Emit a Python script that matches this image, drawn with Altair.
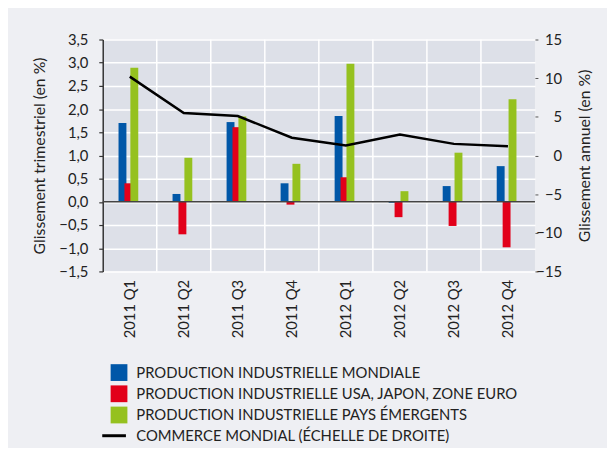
import altair as alt
import pandas as pd

quarters = ["2011 Q1", "2011 Q2", "2011 Q3", "2011 Q4", "2012 Q1", "2012 Q2", "2012 Q3", "2012 Q4"]
series_names = [
    "PRODUCTION INDUSTRIELLE MONDIALE",
    "PRODUCTION INDUSTRIELLE USA, JAPON, ZONE EURO",
    "PRODUCTION INDUSTRIELLE PAYS ÉMERGENTS",
]
line_name = "COMMERCE MONDIAL (ÉCHELLE DE DROITE)"
mondiale = [1.70, 0.17, 1.72, 0.40, 1.85, -0.02, 0.34, 0.77]
usa_japon_ze = [0.40, -0.70, 1.61, -0.06, 0.53, -0.33, -0.52, -0.98]
emergents = [2.89, 0.95, 1.84, 0.82, 2.98, 0.23, 1.06, 2.21]
commerce = [10.2, 5.5, 5.1, 2.3, 1.3, 2.7, 1.5, 1.2]
colors = ["#0057a8", "#e2001a", "#95c11f"]
left_ticks = [-1.5, -1.0, -0.5, 0.0, 0.5, 1.0, 1.5, 2.0, 2.5, 3.0, 3.5]
right_ticks = [-15, -10, -5, 0, 5, 10, 15]

rows = []
for s, vals in zip(series_names, [mondiale, usa_japon_ze, emergents]):
    for q, v in zip(quarters, vals):
        rows.append({"quarter": q, "series": s, "value": v})
bars_df = pd.DataFrame(rows)
line_df = pd.DataFrame({"quarter": quarters, "value": commerce, "series": line_name})
q_df = pd.DataFrame({"quarter": quarters[1:]})
zero_df = pd.DataFrame({"y": [0.0]})

FONT = "Lato"
W, H = 438, 235

xscale = alt.Scale(domain=quarters, paddingInner=0, paddingOuter=0)
yleft = alt.Scale(domain=[-1.5, 3.5], nice=False, zero=False)
yright = alt.Scale(domain=[-15, 15], nice=False, zero=False)

x_axis = alt.Axis(title=None, labelAngle=-90, labelFontSize=15, labelColor="#222",
                  labelFont=FONT, ticks=False, domain=False, grid=False, labelPadding=8,
                  labelAlign="right", labelBaseline="middle")

grid_v = alt.Chart(q_df).mark_rule(color="white", strokeWidth=1.5).encode(
    x=alt.X("quarter:N", scale=xscale, bandPosition=0, axis=x_axis),
)

left_axis = alt.Axis(
    title="Glissement trimestriel (en %)", values=left_ticks,
    labelExpr="replace(format(datum.value, '.1f'), '.', ',')",
    grid=True, gridColor="white", gridWidth=1.5,
    domainColor="#333", domainWidth=1.5, tickColor="#333", tickSize=4, tickWidth=1.2,
    labelPadding=11, labelFontSize=15, labelFont=FONT, labelColor="#222",
    titleFont=FONT, titleFontSize=16, titleFontWeight="normal", titleColor="#222",
    titlePadding=11,
)

bars = alt.Chart(bars_df).mark_bar(size=8).encode(
    x=alt.X("quarter:N", scale=xscale, axis=x_axis),
    xOffset=alt.XOffset("series:N", sort=series_names,
                        scale=alt.Scale(domain=series_names, range=[17, 35],
                                        paddingInner=0, paddingOuter=0)),
    y=alt.Y("value:Q", scale=yleft, axis=left_axis, stack=None),
    color=alt.Color("series:N", sort=series_names,
                    scale=alt.Scale(domain=series_names, range=colors),
                    legend=alt.Legend(title=None, orient="none", legendX=8, legendY=329,
                                      symbolType="square", symbolSize=289, symbolStrokeWidth=0,
                                      symbolOpacity=1, labelFont=FONT, labelFontSize=15,
                                      labelColor="#222", labelOffset=9, rowPadding=4.5,
                                      padding=0, labelLimit=500)),
    order=alt.Order("sortkey:Q"),
).transform_calculate(
    sortkey=f"indexof({series_names!r}, datum.series)"
)

zero = alt.Chart(zero_df).mark_rule(color="#444", strokeWidth=1.5).encode(
    y=alt.Y("y:Q", scale=yleft, axis=left_axis),
)

right_axis = alt.Axis(
    title="Glissement annuel (en %)", orient="right", values=right_ticks,
    grid=False, domain=False, tickColor="#555", tickSize=3, tickWidth=1,
    labelAlign="right", labelPadding=24, labelFontSize=15, labelFont=FONT, labelColor="#222",
    titleFont=FONT, titleFontSize=16, titleFontWeight="normal", titleColor="#222",
    titleAngle=270, titleX=50, titleY=H / 2, titleAlign="center", titleBaseline="middle",
)

line = alt.Chart(line_df).mark_line(color="black", strokeWidth=2.5).encode(
    x=alt.X("quarter:N", scale=xscale, axis=x_axis),
    y=alt.Y("value:Q", scale=yright, axis=right_axis),
    stroke=alt.Stroke("series:N", scale=alt.Scale(domain=[line_name], range=["black"]),
                      legend=alt.Legend(title=None, orient="none", legendX=-2, legendY=388,
                                        symbolType="stroke", symbolSize=576, symbolStrokeWidth=3,
                                        labelFont=FONT, labelFontSize=15, labelColor="#222",
                                        labelOffset=9, padding=0, labelLimit=500)),
)

left_layer = alt.layer(grid_v, bars, zero)
chart = alt.layer(left_layer, line).resolve_scale(
    y="independent", color="independent", stroke="independent"
).properties(
    width=W, height=H,
    autosize=alt.AutoSizeParams(type="none"),
    padding={"left": 96, "top": 29, "right": 73, "bottom": 176},
    background="#eeeff3",
).configure_view(
    fill="#dde0e8", stroke=None,
)

chart.save("out.html", embed_options={"renderer": "svg", "actions": False})
